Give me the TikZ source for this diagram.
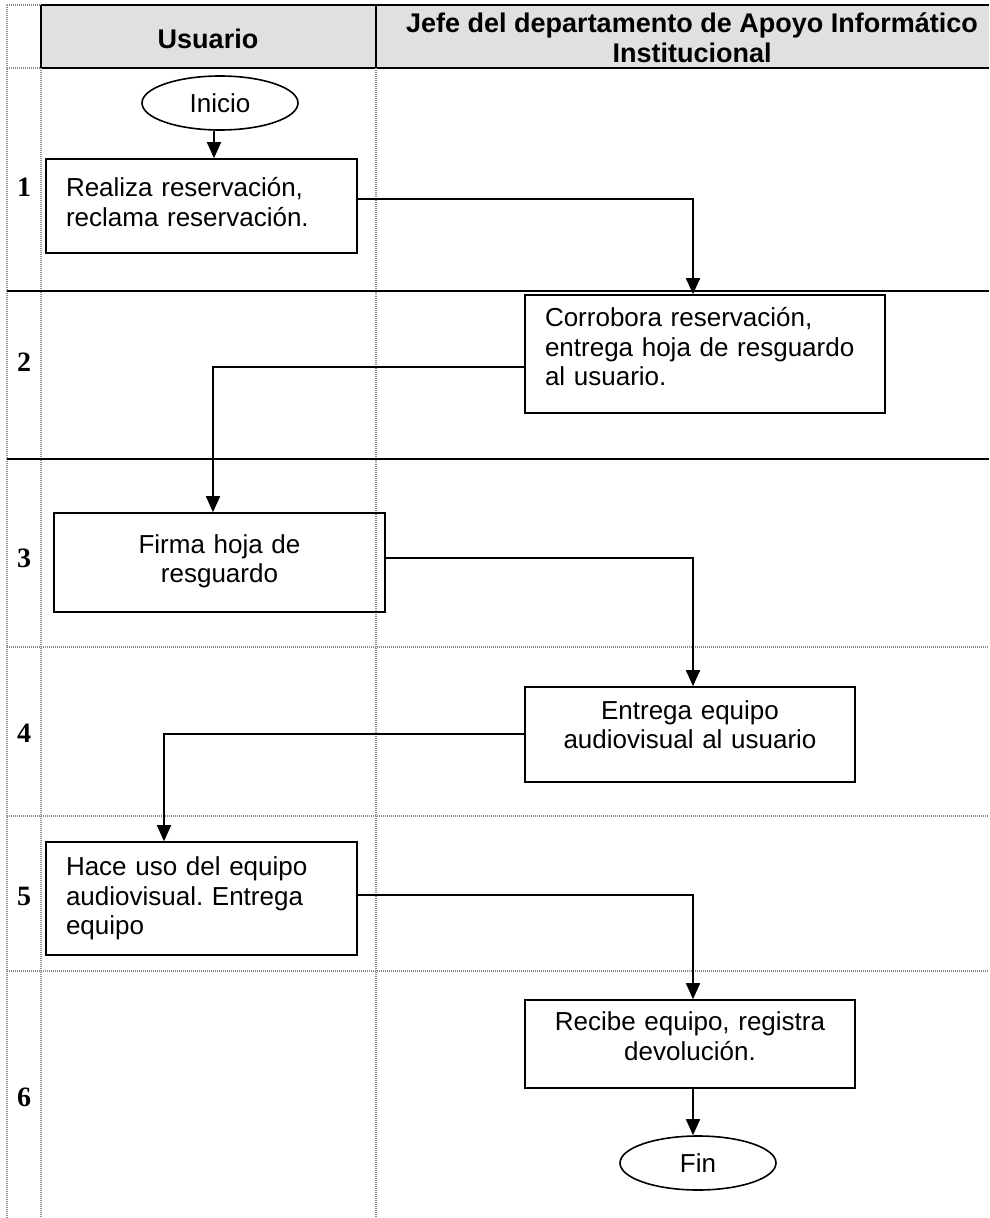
\documentclass[tikz,border=0pt]{standalone}
\usepackage{fontspec}
\setmainfont{Liberation Sans}
\newfontfamily\numfont{Liberation Serif}
\usetikzlibrary{arrows.meta,shapes.geometric}
\definecolor{headgray}{HTML}{E0E0E0}
\definecolor{dotgray}{HTML}{8C8C8C}
\frenchspacing
\newcommand\myliftend[1]{\endgraf\vspace*{#1}}
\begin{document}
\begin{tikzpicture}[x=1pt,y=-1pt,
  gridsolid/.style={line width=2pt,black},
  griddot/.style={line width=1.2pt,dotgray,dash pattern=on 1pt off 1pt},
  boxnode/.style={draw,line width=1.6pt,inner xsep=20pt,inner ysep=0pt,font=\fontsize{26}{29.5}\selectfont},
  lift/.style={execute at end node={\myliftend{#1}}},
  termnode/.style={draw,ellipse,line width=1.6pt,inner sep=0pt,minimum width=156pt,minimum height=54pt,font=\fontsize{26}{30}\selectfont},
  conn/.style={line width=1.6pt,-{Triangle[length=16pt,width=14pt]}},
  numlbl/.style={font=\numfont\bfseries\fontsize{28}{30}\selectfont},
  headlbl/.style={font=\bfseries\fontsize{27}{30}\selectfont}
]
\useasboundingbox (0,0) rectangle (989,1218);
% header
\fill[headgray] (41,5) rectangle (989,68);
\draw[gridsolid] (41,5) -- (989,5);
\draw[gridsolid] (41,68) -- (989,68);
\draw[gridsolid] (41,5) -- (41,68);
\draw[gridsolid] (376,5) -- (376,68);
\draw[griddot] (7,5) -- (41,5);
\draw[griddot] (7,68) -- (41,68);
% verticals
\draw[griddot] (7,5) -- (7,1218);
\draw[griddot] (41,68) -- (41,1218);
\draw[griddot] (376,68) -- (376,1218);
% row lines
\draw[gridsolid] (7,291) -- (989,291);
\draw[gridsolid] (7,459) -- (989,459);
\draw[griddot] (7,647) -- (989,647);
\draw[griddot] (7,816) -- (989,816);
\draw[griddot] (7,971) -- (989,971);
% header labels
\node[headlbl] (hu) at (208,39) {Usuario};
\node[headlbl,align=center] (hj) at (692,38) {Jefe del departamento de Apoyo Informático\\Institucional};
% row numbers
\node[numlbl] (n1) at (24,187) {1};
\node[numlbl] (n2) at (24,362) {2};
\node[numlbl] (n3) at (24,558) {3};
\node[numlbl] (n4) at (24,733) {4};
\node[numlbl] (n5) at (24,896) {5};
\node[numlbl] (n6) at (24,1097) {6};
% nodes
\node[termnode] (inicio) at (220,103) {Inicio};
\node[boxnode,text width=271pt,align=left,minimum height=94pt,lift=8pt] (r1) at (201.5,206) {Realiza reservación,\\reclama reservación.};
\node[boxnode,text width=320pt,align=left,minimum height=118pt,lift=14pt] (r2) at (705,354) {Corrobora reservación,\\entrega hoja de resguardo\\al usuario.};
\node[boxnode,text width=291pt,align=center,minimum height=99pt,lift=2pt] (r3) at (219.5,562.5) {Firma hoja de\\resguardo};
\node[boxnode,text width=290pt,align=center,minimum height=95pt,lift=20pt] (r4) at (690,734.5) {Entrega equipo\\audiovisual al usuario};
\node[boxnode,text width=271pt,align=left,minimum height=113pt] (r5) at (201.5,898.5) {Hace uso del equipo\\audiovisual. Entrega\\equipo};
\node[boxnode,text width=290pt,align=center,minimum height=88pt,lift=16pt] (r6) at (690,1044) {Recibe equipo, registra\\devolución.};
\node[termnode] (fin) at (698,1163) {Fin};
% connectors
\coordinate (k0) at ([xshift=-6pt]inicio.south);
\draw[conn] (k0) -- (k0 |- r1.north);
\coordinate (k1) at (693,199);
\draw[conn] (r1.east |- k1) -- (k1) -- (k1 |- r2.north);
\coordinate (k2) at (213,367);
\draw[conn] (r2.west |- k2) -- (k2) -- (k2 |- r3.north);
\coordinate (k3) at (693,558);
\draw[conn] (r3.east |- k3) -- (k3) -- (k3 |- r4.north);
\coordinate (k4) at (164,734);
\draw[conn] (r4.west |- k4) -- (k4) -- (k4 |- r5.north);
\coordinate (k5) at (693,895);
\draw[conn] (r5.east |- k5) -- (k5) -- (k5 |- r6.north);
\draw[conn] (r6.south -| k5) -- (k5 |- fin.north);
\end{tikzpicture}
\end{document}
